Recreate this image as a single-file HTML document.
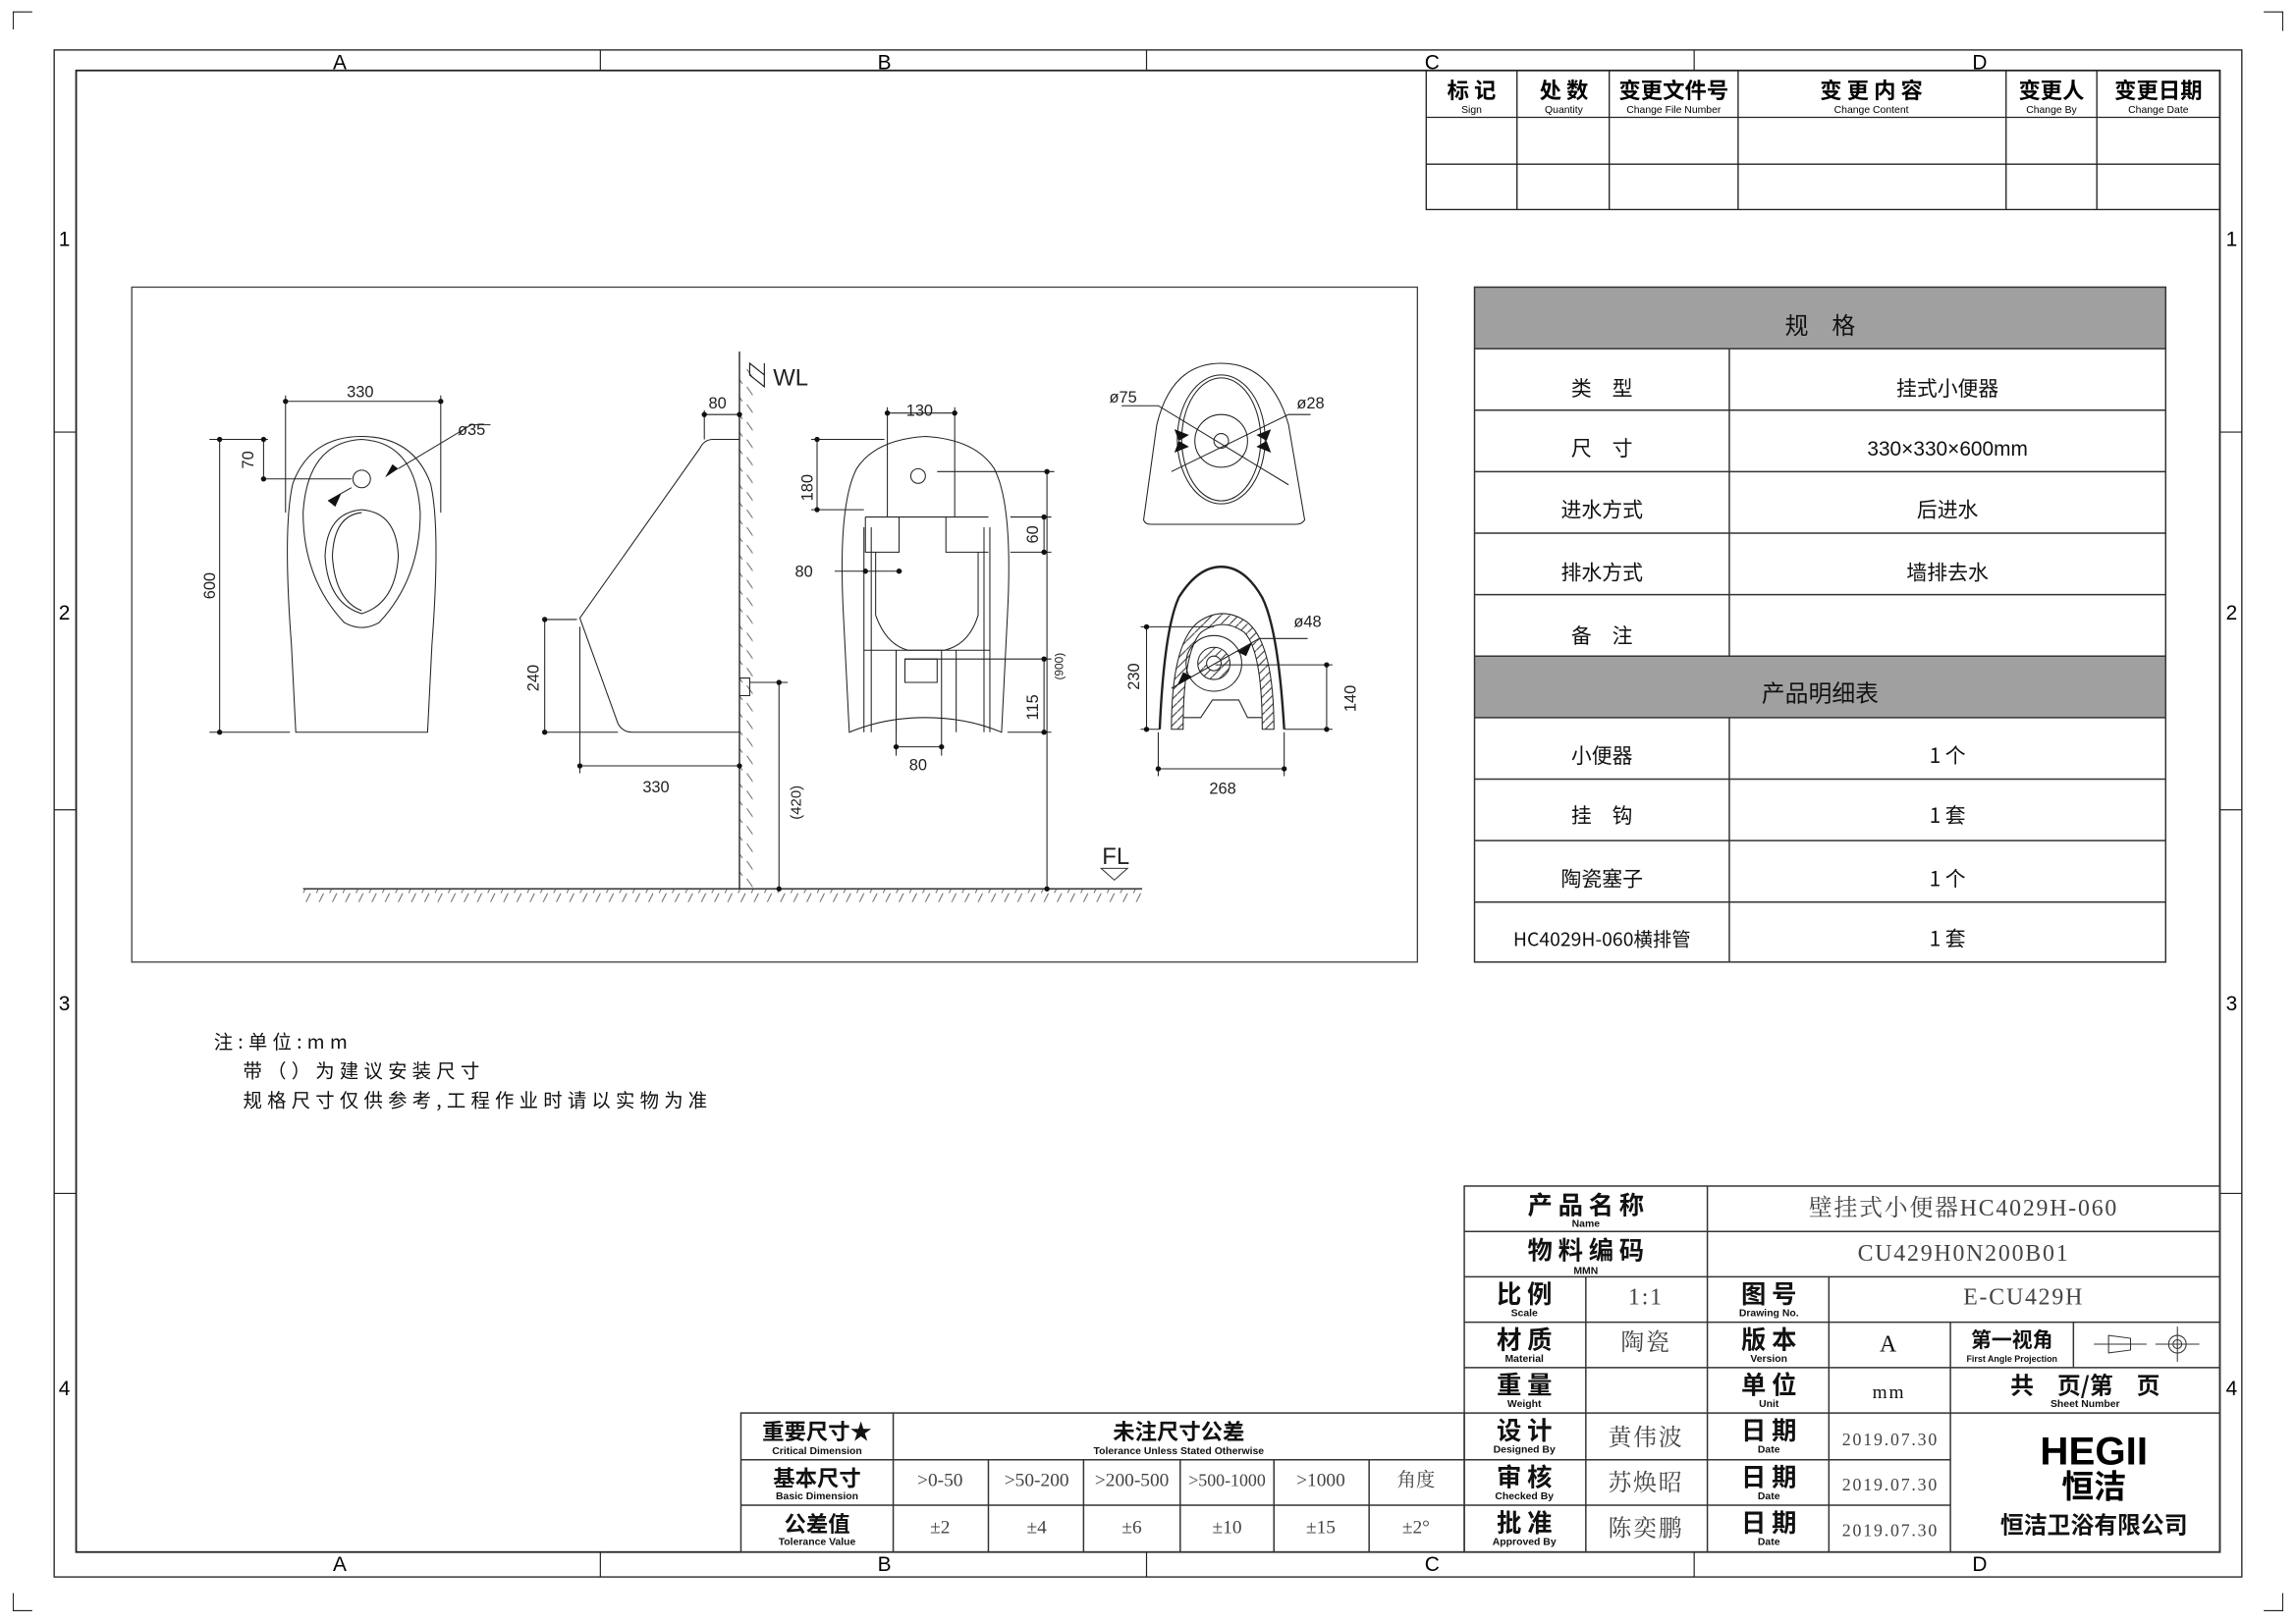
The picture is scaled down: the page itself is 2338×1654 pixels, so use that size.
<!DOCTYPE html>
<html><head><meta charset="utf-8"><style>
html,body{margin:0;padding:0;background:#fff}
svg{display:block}
.s{font-family:"Liberation Sans","Noto Sans CJK SC",sans-serif}
.r{font-family:"Liberation Serif","Noto Serif CJK SC",serif;fill:#444}
.c{font-family:"Noto Sans CJK SC","Liberation Sans",sans-serif}
.m{font-family:"Liberation Sans Narrow","Liberation Sans",sans-serif}
</style></head><body>
<svg width="2338" height="1654" viewBox="0 0 1568 1109" xmlns="http://www.w3.org/2000/svg">
<defs>
<pattern id="hf" width="9" height="10" patternUnits="userSpaceOnUse"><line x1="0" y1="10" x2="5" y2="0" stroke="#555" stroke-width="0.6"/></pattern>
<pattern id="hw" width="10" height="12" patternUnits="userSpaceOnUse"><line x1="0" y1="0" x2="7" y2="10" stroke="#555" stroke-width="0.6"/></pattern>
<pattern id="hs" width="6" height="6" patternUnits="userSpaceOnUse"><line x1="0" y1="6" x2="6" y2="0" stroke="#333" stroke-width="0.7"/></pattern>
</defs>
<rect width="1568" height="1109" fill="#fff"/>
<g fill="none" stroke="#000" stroke-width="0.6">
<path d="M9 20V8H22 M1546 8h13v13 M9 1088v12h13 M1546 1100h13v-12"/>
</g>
<g fill="none" stroke="#222">
<rect x="37" y="34" width="1494" height="1043" stroke-width="0.9"/>
<rect x="52" y="48" width="1464" height="1012" stroke-width="1.2"/>
<path d="M410 34v14 M783 34v14 M1157 34v14 M410 1060v17 M783 1060v17 M1157 1060v17 M37 295h15 M37 553h15 M37 815h15 M1516 295h15 M1516 553h15 M1516 815h15" stroke-width="0.8"/>
</g>
<g class="s" font-size="14" text-anchor="middle">
<text x="232" y="47">A</text><text x="604" y="47">B</text><text x="978" y="47">C</text><text x="1352" y="47">D</text>
<text x="232" y="1073">A</text><text x="604" y="1073">B</text><text x="978" y="1073">C</text><text x="1352" y="1073">D</text>
<text x="44" y="168">1</text><text x="44" y="423">2</text><text x="44" y="690">3</text><text x="44" y="953">4</text>
<text x="1524" y="168">1</text><text x="1524" y="423">2</text><text x="1524" y="690">3</text><text x="1524" y="953">4</text>
</g>
<g fill="none" stroke="#222" stroke-width="0.9">
<rect x="974" y="48" width="542" height="95"/>
<path d="M974 80h542 M974 112h542 M1036 48v95 M1099 48v95 M1187 48v95 M1370 48v95 M1432 48v95"/>
</g>
<g class="c" text-anchor="middle" font-size="15" font-weight="bold">
<text x="1005" y="67">标 记</text><text x="1068" y="67">处 数</text><text x="1143" y="67">变更文件号</text><text x="1278" y="67">变 更 内 容</text><text x="1401" y="67">变更人</text><text x="1474" y="67">变更日期</text>
</g>
<g class="m" text-anchor="middle" font-size="7">
<text x="1005" y="77">Sign</text><text x="1068" y="77">Quantity</text><text x="1143" y="77">Change File Number</text><text x="1278" y="77">Change Content</text><text x="1401" y="77">Change By</text><text x="1474" y="77">Change Date</text>
</g>
<rect x="90" y="196" width="878" height="461" fill="none" stroke="#444" stroke-width="0.9"/>
<rect x="207" y="607" width="573" height="9" fill="url(#hf)"/>
<line x1="207" y1="607" x2="780" y2="607" stroke="#333" stroke-width="1"/>
<rect x="505" y="250" width="9" height="357" fill="url(#hw)"/>
<line x1="505" y1="240" x2="505" y2="607" stroke="#333" stroke-width="1"/>
<g fill="none" stroke="#222" stroke-width="0.7">
<path d="M202 500 L199 440 Q193 360 200 330 Q212 298 247 298 Q282 298 294 330 Q301 360 295 440 L292 500 Z"/>
<path d="M247 300 Q210 302 207 350 Q207 395 235 425 Q247 432 259 425 Q287 395 287 350 Q284 302 247 300Z"/>
<path d="M247 348 Q223 350 222 380 Q224 412 247 419 Q270 412 272 380 Q271 350 247 348Z"/>
<path d="M247 350 Q228 352 227 380 Q229 410 247 417"/>
<circle cx="247" cy="327" r="6"/>
<path d="M150 300v200 M143 300h40 M143 500h55 M180 300v27 M180 327h60 M195 274h106 M195 270v80 M301 270v80 M272 320 L322 290 L335 290 M224 342 L240 333"/>
<path d="M505 300 H487 Q481 300 478 306 L396 422 L422 494 Q425 500 432 500 H505"/>
<path d="M481 283h24 M481 280v20 M372 423h22 M372 500h50 M372 423v77 M396 428v100 M396 523h109 M532 466v141 M512 466h26 M505 463h7v12h-7"/>
<path d="M512 248 L522 256 L522 264 L512 256 Z M522 248 v16" stroke-width="0.8"/>
<path d="M580 500 L576 420 Q572 345 585 320 Q598 300 632 298 Q666 300 679 320 Q692 345 688 420 L684 500 Q660 490 632 490 Q604 490 580 500Z"/>
<path d="M590 360 V500 M676 360 V500 M595 360 V500 M672 360 V500"/>
<path d="M591 353 H675 M591 353 V377 H614 V353 M646 353 V377 H675 M598 377 V420 Q605 440 620 444 H645 Q662 440 668 420 V377"/>
<path d="M590 444 H676 M612 444 V500 M653 444 V500 M618 450 H640 V466 H618 Z"/>
<circle cx="627" cy="325" r="5"/>
<path d="M606 282h46 M606 278v75 M652 278v75 M558 300v48 M554 300h50 M554 348h36 M713 353v24 M690 353h28 M690 377h28 M713 450v50 M618 450h100 M688 500h30 M570 390h46 M612 510h31 M612 444v72 M643 444v72 M715 322v285 M640 322h80"/>
<path d="M781 355 L790 290 Q800 248 834 248 Q868 248 880 290 L891 355 Q889 358 885 358 H786 Q782 358 781 355Z"/>
<ellipse cx="834" cy="300" rx="30" ry="44"/>
<ellipse cx="834" cy="300" rx="27" ry="42"/>
<ellipse cx="834" cy="301" rx="18" ry="18"/>
<circle cx="834" cy="301" r="5"/>
<path d="M766 277h25 L880 331 M800 322 L880 283 H895"/>
<path d="M792 498 Q795 430 805 408 Q818 387 834 387 Q850 387 862 408 Q873 430 877 498" stroke-width="1.6"/>
<path d="M800 498 Q800 440 818 425 Q835 413 852 425 Q870 440 870 498 H862 Q862 445 850 432 Q835 421 820 432 Q808 445 808 498Z" fill="url(#hs)"/>
<path d="M808 490 H820 L828 478 H846 L852 490 H862"/>
<circle cx="829" cy="453" r="11" fill="url(#hs)"/>
<circle cx="829" cy="453" r="5" fill="#fff"/>
<circle cx="829" cy="453" r="19"/>
<path d="M783 428v70 M779 428h50 M779 498h13 M906 454v44 M830 454h80 M877 498h33 M791 525h86 M791 500v30 M877 500v30 M800 470 L860 436 H893"/>
</g>
<g fill="#111">
<path d="M272 320l-9 6l5 -9z M224 342l9 -5l-4 9z"/>
<path d="M812 297l-10 -4l3 8z M858 305l10 4l-3 -8z M858 297l10 -4l-3 8z M812 305l-10 4l3 -8z"/>
<path d="M845 445l10 -6l-4 9z M814 462l-10 6l4 -9z"/>
<g>
<circle cx="150" cy="300" r="1.8"/><circle cx="150" cy="500" r="1.8"/><circle cx="180" cy="300" r="1.8"/><circle cx="180" cy="327" r="1.8"/><circle cx="195" cy="274" r="1.8"/><circle cx="301" cy="274" r="1.8"/>
<circle cx="481" cy="283" r="1.8"/><circle cx="505" cy="283" r="1.8"/><circle cx="372" cy="423" r="1.8"/><circle cx="372" cy="500" r="1.8"/><circle cx="396" cy="523" r="1.8"/><circle cx="505" cy="523" r="1.8"/><circle cx="532" cy="466" r="1.8"/><circle cx="532" cy="607" r="1.8"/>
<circle cx="606" cy="282" r="1.8"/><circle cx="652" cy="282" r="1.8"/><circle cx="558" cy="300" r="1.8"/><circle cx="558" cy="348" r="1.8"/><circle cx="713" cy="353" r="1.8"/><circle cx="713" cy="377" r="1.8"/><circle cx="713" cy="450" r="1.8"/><circle cx="713" cy="500" r="1.8"/><circle cx="591" cy="390" r="1.8"/><circle cx="614" cy="390" r="1.8"/><circle cx="612" cy="510" r="1.8"/><circle cx="643" cy="510" r="1.8"/><circle cx="715" cy="322" r="1.8"/><circle cx="715" cy="607" r="1.8"/>
<circle cx="783" cy="428" r="1.8"/><circle cx="783" cy="498" r="1.8"/><circle cx="906" cy="454" r="1.8"/><circle cx="906" cy="498" r="1.8"/><circle cx="791" cy="525" r="1.8"/><circle cx="877" cy="525" r="1.8"/>
</g></g>
<path d="M752 593 L770 593 L761 601 Z" fill="none" stroke="#333" stroke-width="0.7"/>
<g class="s" font-size="11" fill="#222" text-anchor="middle">
<text x="246" y="271">330</text><text x="322" y="297">ø35</text>
<text transform="translate(173,314) rotate(-90)">70</text><text transform="translate(147,400) rotate(-90)">600</text>
<text x="490" y="279">80</text><text transform="translate(368,463) rotate(-90)">240</text><text x="448" y="541">330</text>
<text transform="translate(547,548) rotate(-90)" font-size="10">(420)</text>
<text x="628" y="284">130</text><text transform="translate(555,333) rotate(-90)">180</text><text transform="translate(709,365) rotate(-90)">60</text>
<text x="549" y="394">80</text><text transform="translate(709,483) rotate(-90)">115</text><text x="627" y="526">80</text>
<text transform="translate(726,455) rotate(-90)" font-size="8">(900)</text>
<text x="767" y="275">ø75</text><text x="895" y="279">ø28</text><text x="893" y="428">ø48</text>
<text transform="translate(778,462) rotate(-90)">230</text><text transform="translate(926,477) rotate(-90)">140</text><text x="835" y="542">268</text>
<text x="540" y="263" font-size="16">WL</text><text x="762" y="590" font-size="16">FL</text>
</g>
<g>
<rect x="1007" y="196" width="472" height="42" fill="#a0a0a0"/>
<rect x="1007" y="448" width="472" height="42" fill="#a0a0a0"/>
<g fill="none" stroke="#333" stroke-width="1">
<rect x="1007" y="196" width="472" height="461"/>
<path d="M1007 238h472 M1007 280h472 M1007 322h472 M1007 364h472 M1007 406h472 M1007 448h472 M1007 490h472 M1007 532h472 M1007 574h472 M1007 616h472 M1181 238v210 M1181 490v167"/>
</g>
<g class="c" font-size="14" text-anchor="middle" fill="#111">
<text x="1243" y="228" font-size="16">规　格</text>
<text x="1094" y="270">类　型</text><text x="1330" y="270">挂式小便器</text>
<text x="1094" y="311">尺　寸</text><text x="1330" y="311" class="s">330×330×600mm</text>
<text x="1094" y="353">进水方式</text><text x="1330" y="353">后进水</text>
<text x="1094" y="396">排水方式</text><text x="1330" y="396">墙排去水</text>
<text x="1094" y="439">备　注</text>
<text x="1243" y="479" font-size="16">产品明细表</text>
<text x="1094" y="521">小便器</text><text x="1330" y="521">1 个</text>
<text x="1094" y="562">挂　钩</text><text x="1330" y="562">1 套</text>
<text x="1094" y="605">陶瓷塞子</text><text x="1330" y="605">1 个</text>
<text x="1094" y="646" font-size="13">HC4029H-060横排管</text><text x="1330" y="646">1 套</text>
</g></g>
<g class="c" font-size="13" fill="#111" letter-spacing="3.5">
<text x="146" y="716">注:单位:mm</text>
<text x="166" y="736">带（）为建议安装尺寸</text>
<text x="166" y="756">规格尺寸仅供参考,工程作业时请以实物为准</text>
</g>
<g fill="none" stroke="#333" stroke-width="1">
<rect x="1000" y="810" width="516" height="250"/>
<path d="M1000 841h516 M1000 872h516 M1000 903h516 M1000 934h516 M1000 965h332 M1000 997h332 M1000 1028h332 M1166 810v250 M1083 872v188 M1249 872v188 M1332 903v157 M1416 903v31 M1332 965h184"/>
<rect x="506" y="965" width="494" height="95"/>
<path d="M506 997h494 M506 1028h494 M610 965v95 M675 997v63 M740 997v63 M806 997v63 M870 997v63 M935 997v63"/>
</g>
<g class="c" text-anchor="middle" fill="#111" font-size="17" font-weight="bold">
<text x="1083" y="829">产 品 名 称</text><text x="1083" y="860">物 料 编 码</text>
<text x="1041" y="890">比 例</text><text x="1041" y="921">材 质</text><text x="1041" y="952">重 量</text>
<text x="1041" y="983">设 计</text><text x="1041" y="1015">审 核</text><text x="1041" y="1046">批 准</text>
<text x="1208" y="890">图 号</text><text x="1208" y="921">版 本</text><text x="1208" y="952">单 位</text>
<text x="1208" y="983">日 期</text><text x="1208" y="1015">日 期</text><text x="1208" y="1046">日 期</text>
<text x="1374" y="920" font-size="14">第一视角</text><text x="1424" y="952" font-size="16">共　页/第　页</text>
<text x="1430" y="1047" font-size="16">恒洁卫浴有限公司</text>
<text x="558" y="983" font-size="15">重要尺寸★</text><text x="558" y="1015" font-size="15">基本尺寸</text><text x="558" y="1046" font-size="15">公差值</text>
<text x="805" y="983" font-size="15">未注尺寸公差</text>
</g>
<g class="m" text-anchor="middle" font-size="7" fill="#111" font-weight="bold">
<text x="1083" y="838">Name</text><text x="1083" y="870">MMN</text>
<text x="1041" y="899">Scale</text><text x="1041" y="930">Material</text><text x="1041" y="961">Weight</text>
<text x="1041" y="992">Designed By</text><text x="1041" y="1024">Checked By</text><text x="1041" y="1055">Approved By</text>
<text x="1208" y="899">Drawing No.</text><text x="1208" y="930">Version</text><text x="1208" y="961">Unit</text>
<text x="1208" y="992">Date</text><text x="1208" y="1024">Date</text><text x="1208" y="1055">Date</text>
<text x="1374" y="930" font-size="6">First Angle Projection</text><text x="1424" y="961">Sheet Number</text>
<text x="558" y="993">Critical Dimension</text><text x="558" y="1024">Basic Dimension</text><text x="558" y="1055">Tolerance Value</text>
<text x="805" y="993">Tolerance Unless Stated Otherwise</text>
</g>
<g class="r" text-anchor="middle" font-size="16" letter-spacing="1.2">
<text x="1341" y="830">壁挂式小便器HC4029H-060</text><text x="1341" y="861">CU429H0N200B01</text>
<text x="1124" y="891">1:1</text><text x="1124" y="922">陶瓷</text>
<text x="1382" y="891">E-CU429H</text><text x="1290" y="923" fill="#111">A</text><text x="1290" y="955" fill="#111" font-size="13">mm</text>
<text x="1124" y="987">黄伟波</text><text x="1124" y="1018">苏焕昭</text><text x="1124" y="1049">陈奕鹏</text>
<text x="1291" y="987" font-size="12">2019.07.30</text><text x="1291" y="1018" font-size="12">2019.07.30</text><text x="1291" y="1049" font-size="12">2019.07.30</text>
</g>
<g class="r" text-anchor="middle">
<g font-size="13"><text x="642" y="1015">&gt;0-50</text><text x="708" y="1015">&gt;50-200</text><text x="773" y="1015">&gt;200-500</text><text x="838" y="1015" font-size="12">&gt;500-1000</text><text x="902" y="1015">&gt;1000</text><text x="967" y="1015">角度</text>
<text x="642" y="1047">±2</text><text x="708" y="1047">±4</text><text x="773" y="1047">±6</text><text x="838" y="1047">±10</text><text x="902" y="1047">±15</text><text x="967" y="1047">±2°</text></g>
</g>
<g fill="none" stroke="#333" stroke-width="0.7">
<path d="M1430 918h36 M1440 912v12 L1455 922 V914 Z M1472 918h30 M1487 906v24"/>
<circle cx="1487" cy="918" r="6"/><circle cx="1487" cy="918" r="3"/>
</g>
<text x="1430" y="1000" text-anchor="middle" class="s" font-size="27" font-weight="bold" fill="#000">HEGII</text>
<text x="1430" y="1023" text-anchor="middle" class="c" font-size="22" font-weight="bold" fill="#000">恒洁</text>
</svg>
</body></html>
